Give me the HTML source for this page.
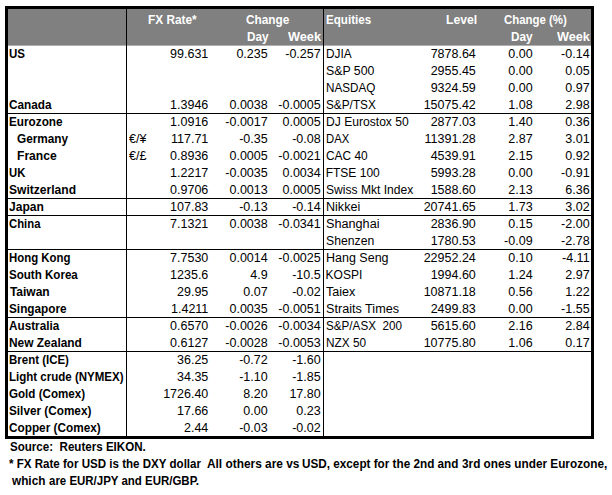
<!DOCTYPE html>
<html><head><meta charset="utf-8"><title>Markets</title>
<style>
html,body{margin:0;padding:0;background:#fff;}
body{width:612px;height:495px;position:relative;overflow:hidden;font-family:"Liberation Sans",sans-serif;color:#000;}
.box{position:absolute;left:5px;top:6px;width:583px;height:427px;border:3px solid #000;}
.hdr{position:absolute;left:8px;top:9px;width:583px;height:36px;background:#808080;border-bottom:1px solid #b0b0b0;}
.vl{position:absolute;top:9px;width:1px;height:427px;background:#000;}
.hl{position:absolute;left:8px;width:583px;height:1px;background:#000;}
.t{position:absolute;white-space:pre;line-height:17px;transform-origin:0 0;}
.b{font-weight:bold;font-size:12px;}
.n{font-size:12.5px;}
.e{font-size:12px;}
.h{font-weight:bold;font-size:12px;}
.f{font-weight:bold;font-size:12px;}
</style></head><body>
<div class="box"></div>
<div class="hdr"></div>
<div class="vl" style="left:126px"></div>
<div class="vl" style="left:323px"></div>
<div class="hl" style="top:113px"></div>
<div class="hl" style="top:198px"></div>
<div class="hl" style="top:215px"></div>
<div class="hl" style="top:249px"></div>
<div class="hl" style="top:317px"></div>
<div class="hl" style="top:351px"></div>
<div class="t b" style="left:8.81px;top:46px;transform:scaleX(0.9589);">US</div>
<div class="t n" style="right:403.70px;top:46px;">99.631</div>
<div class="t n" style="right:344.30px;top:46px;">0.235</div>
<div class="t n" style="right:291.30px;top:46px;">-0.257</div>
<div class="t e" style="left:325.73px;top:46px;transform:scaleX(0.9854);">DJIA</div>
<div class="t n" style="right:136.20px;top:46px;">7878.64</div>
<div class="t n" style="right:79.40px;top:46px;">0.00</div>
<div class="t n" style="right:22.40px;top:46px;">-0.14</div>
<div class="t e" style="left:325.58px;top:63px;transform:scaleX(1.0264);">S&amp;P 500</div>
<div class="t n" style="right:136.20px;top:63px;">2955.45</div>
<div class="t n" style="right:79.40px;top:63px;">0.00</div>
<div class="t n" style="right:22.40px;top:63px;">0.05</div>
<div class="t e" style="left:325.74px;top:80px;transform:scaleX(0.9742);">NASDAQ</div>
<div class="t n" style="right:136.20px;top:80px;">9324.59</div>
<div class="t n" style="right:79.40px;top:80px;">0.00</div>
<div class="t n" style="right:22.40px;top:80px;">0.97</div>
<div class="t b" style="left:8.77px;top:97px;transform:scaleX(0.9815);">Canada</div>
<div class="t n" style="right:403.70px;top:97px;">1.3946</div>
<div class="t n" style="right:344.30px;top:97px;">0.0038</div>
<div class="t n" style="right:291.30px;top:97px;">-0.0005</div>
<div class="t e" style="left:325.61px;top:97px;transform:scaleX(0.9836);">S&amp;P/TSX</div>
<div class="t n" style="right:136.20px;top:97px;">15075.42</div>
<div class="t n" style="right:79.40px;top:97px;">1.08</div>
<div class="t n" style="right:22.40px;top:97px;">2.98</div>
<div class="t b" style="left:8.55px;top:114px;transform:scaleX(0.9803);">Eurozone</div>
<div class="t n" style="right:403.70px;top:114px;">1.0916</div>
<div class="t n" style="right:344.30px;top:114px;">-0.0017</div>
<div class="t n" style="right:291.30px;top:114px;">0.0005</div>
<div class="t e" style="left:325.91px;top:114px;transform:scaleX(1.0086);">DJ Eurostox 50</div>
<div class="t n" style="right:136.20px;top:114px;">2877.03</div>
<div class="t n" style="right:79.40px;top:114px;">1.40</div>
<div class="t n" style="right:22.40px;top:114px;">0.36</div>
<div class="t b" style="left:17.47px;top:131px;transform:scaleX(0.9822);">Germany</div>
<div class="t e" style="left:128.60px;top:131px;transform:scaleX(1.0447);">€/¥</div>
<div class="t n" style="right:403.70px;top:131px;">117.71</div>
<div class="t n" style="right:344.30px;top:131px;">-0.35</div>
<div class="t n" style="right:291.30px;top:131px;">-0.08</div>
<div class="t e" style="left:325.77px;top:131px;transform:scaleX(0.9391);">DAX</div>
<div class="t n" style="right:136.20px;top:131px;">11391.28</div>
<div class="t n" style="right:79.40px;top:131px;">2.87</div>
<div class="t n" style="right:22.40px;top:131px;">3.01</div>
<div class="t b" style="left:17.22px;top:148px;transform:scaleX(1.0083);">France</div>
<div class="t e" style="left:128.60px;top:148px;transform:scaleX(1.0460);">€/£</div>
<div class="t n" style="right:403.70px;top:148px;">0.8936</div>
<div class="t n" style="right:344.30px;top:148px;">0.0005</div>
<div class="t n" style="right:291.30px;top:148px;">-0.0021</div>
<div class="t e" style="left:325.75px;top:148px;transform:scaleX(0.9919);">CAC 40</div>
<div class="t n" style="right:136.20px;top:148px;">4539.91</div>
<div class="t n" style="right:79.40px;top:148px;">2.15</div>
<div class="t n" style="right:22.40px;top:148px;">0.92</div>
<div class="t b" style="left:8.82px;top:165px;transform:scaleX(0.9420);">UK</div>
<div class="t n" style="right:403.70px;top:165px;">1.2217</div>
<div class="t n" style="right:344.30px;top:165px;">-0.0035</div>
<div class="t n" style="right:291.30px;top:165px;">0.0034</div>
<div class="t e" style="left:325.71px;top:165px;">FTSE 100</div>
<div class="t n" style="right:136.20px;top:165px;">5993.28</div>
<div class="t n" style="right:79.40px;top:165px;">0.00</div>
<div class="t n" style="right:22.40px;top:165px;">-0.91</div>
<div class="t b" style="left:9.38px;top:182px;transform:scaleX(1.0049);">Switzerland</div>
<div class="t n" style="right:403.70px;top:182px;">0.9706</div>
<div class="t n" style="right:344.30px;top:182px;">0.0013</div>
<div class="t n" style="right:291.30px;top:182px;">0.0005</div>
<div class="t e" style="left:325.79px;top:182px;transform:scaleX(1.0070);">Swiss Mkt Index</div>
<div class="t n" style="right:136.20px;top:182px;">1588.60</div>
<div class="t n" style="right:79.40px;top:182px;">2.13</div>
<div class="t n" style="right:22.40px;top:182px;">6.36</div>
<div class="t b" style="left:9.00px;top:199px;transform:scaleX(1.0058);">Japan</div>
<div class="t n" style="right:403.70px;top:199px;">107.83</div>
<div class="t n" style="right:344.30px;top:199px;">-0.13</div>
<div class="t n" style="right:291.30px;top:199px;">-0.14</div>
<div class="t e" style="left:325.67px;top:199px;transform:scaleX(1.0472);">Nikkei</div>
<div class="t n" style="right:136.20px;top:199px;">20741.65</div>
<div class="t n" style="right:79.40px;top:199px;">1.73</div>
<div class="t n" style="right:22.40px;top:199px;">3.02</div>
<div class="t b" style="left:8.79px;top:216px;transform:scaleX(0.9425);">China</div>
<div class="t n" style="right:403.70px;top:216px;">7.1321</div>
<div class="t n" style="right:344.30px;top:216px;">0.0038</div>
<div class="t n" style="right:291.30px;top:216px;">-0.0341</div>
<div class="t e" style="left:325.56px;top:216px;transform:scaleX(1.0545);">Shanghai</div>
<div class="t n" style="right:136.20px;top:216px;">2836.90</div>
<div class="t n" style="right:79.40px;top:216px;">0.15</div>
<div class="t n" style="right:22.40px;top:216px;">-2.00</div>
<div class="t e" style="left:325.59px;top:233px;transform:scaleX(1.0181);">Shenzen</div>
<div class="t n" style="right:136.20px;top:233px;">1780.53</div>
<div class="t n" style="right:79.40px;top:233px;">-0.09</div>
<div class="t n" style="right:22.40px;top:233px;">-2.78</div>
<div class="t b" style="left:8.77px;top:250px;transform:scaleX(0.9503);">Hong Kong</div>
<div class="t n" style="right:403.70px;top:250px;">7.7530</div>
<div class="t n" style="right:344.30px;top:250px;">0.0014</div>
<div class="t n" style="right:291.30px;top:250px;">-0.0025</div>
<div class="t e" style="left:325.68px;top:250px;transform:scaleX(1.0417);">Hang Seng</div>
<div class="t n" style="right:136.20px;top:250px;">22952.24</div>
<div class="t n" style="right:79.40px;top:250px;">0.10</div>
<div class="t n" style="right:22.40px;top:250px;">-4.11</div>
<div class="t b" style="left:9.41px;top:267px;transform:scaleX(0.9645);">South Korea</div>
<div class="t n" style="right:403.70px;top:267px;">1235.6</div>
<div class="t n" style="right:344.30px;top:267px;">4.9</div>
<div class="t n" style="right:291.30px;top:267px;">-10.5</div>
<div class="t e" style="left:325.61px;top:267px;">KOSPI</div>
<div class="t n" style="right:136.20px;top:267px;">1994.60</div>
<div class="t n" style="right:79.40px;top:267px;">1.24</div>
<div class="t n" style="right:22.40px;top:267px;">2.97</div>
<div class="t b" style="left:9.88px;top:284px;">Taiwan</div>
<div class="t n" style="right:403.70px;top:284px;">29.95</div>
<div class="t n" style="right:344.30px;top:284px;">0.07</div>
<div class="t n" style="right:291.30px;top:284px;">-0.02</div>
<div class="t e" style="left:326.16px;top:284px;transform:scaleX(1.0486);">Taiex</div>
<div class="t n" style="right:136.20px;top:284px;">10871.18</div>
<div class="t n" style="right:79.40px;top:284px;">0.56</div>
<div class="t n" style="right:22.40px;top:284px;">1.22</div>
<div class="t b" style="left:9.39px;top:301px;transform:scaleX(0.9826);">Singapore</div>
<div class="t n" style="right:403.70px;top:301px;">1.4211</div>
<div class="t n" style="right:344.30px;top:301px;">0.0035</div>
<div class="t n" style="right:291.30px;top:301px;">-0.0051</div>
<div class="t e" style="left:325.66px;top:301px;transform:scaleX(1.0525);">Straits Times</div>
<div class="t n" style="right:136.20px;top:301px;">2499.83</div>
<div class="t n" style="right:79.40px;top:301px;">0.00</div>
<div class="t n" style="right:22.40px;top:301px;">-1.55</div>
<div class="t b" style="left:8.81px;top:318px;transform:scaleX(0.9778);">Australia</div>
<div class="t n" style="right:403.70px;top:318px;">0.6570</div>
<div class="t n" style="right:344.30px;top:318px;">-0.0026</div>
<div class="t n" style="right:291.30px;top:318px;">-0.0034</div>
<div class="t e" style="left:325.72px;top:318px;transform:scaleX(0.9727);">S&amp;P/ASX  200</div>
<div class="t n" style="right:136.20px;top:318px;">5615.60</div>
<div class="t n" style="right:79.40px;top:318px;">2.16</div>
<div class="t n" style="right:22.40px;top:318px;">2.84</div>
<div class="t b" style="left:8.74px;top:335px;transform:scaleX(0.9939);">New Zealand</div>
<div class="t n" style="right:403.70px;top:335px;">0.6127</div>
<div class="t n" style="right:344.30px;top:335px;">-0.0028</div>
<div class="t n" style="right:291.30px;top:335px;">-0.0053</div>
<div class="t e" style="left:325.63px;top:335px;transform:scaleX(0.9846);">NZX 50</div>
<div class="t n" style="right:136.20px;top:335px;">10775.80</div>
<div class="t n" style="right:79.40px;top:335px;">1.06</div>
<div class="t n" style="right:22.40px;top:335px;">0.17</div>
<div class="t b" style="left:8.76px;top:352px;transform:scaleX(0.9563);">Brent (ICE)</div>
<div class="t n" style="right:403.70px;top:352px;">36.25</div>
<div class="t n" style="right:344.30px;top:352px;">-0.72</div>
<div class="t n" style="right:291.30px;top:352px;">-1.60</div>
<div class="t b" style="left:9.16px;top:369px;transform:scaleX(0.9599);">Light crude (NYMEX)</div>
<div class="t n" style="right:403.70px;top:369px;">34.35</div>
<div class="t n" style="right:344.30px;top:369px;">-1.10</div>
<div class="t n" style="right:291.30px;top:369px;">-1.85</div>
<div class="t b" style="left:8.78px;top:386px;transform:scaleX(0.9676);">Gold (Comex)</div>
<div class="t n" style="right:403.70px;top:386px;">1726.40</div>
<div class="t n" style="right:344.30px;top:386px;">8.20</div>
<div class="t n" style="right:291.30px;top:386px;">17.80</div>
<div class="t b" style="left:9.40px;top:403px;transform:scaleX(0.9802);">Silver (Comex)</div>
<div class="t n" style="right:403.70px;top:403px;">17.66</div>
<div class="t n" style="right:344.30px;top:403px;">0.00</div>
<div class="t n" style="right:291.30px;top:403px;">0.23</div>
<div class="t b" style="left:8.77px;top:420px;transform:scaleX(0.9820);">Copper (Comex)</div>
<div class="t n" style="right:403.70px;top:420px;">2.44</div>
<div class="t n" style="right:344.30px;top:420px;">-0.03</div>
<div class="t n" style="right:291.30px;top:420px;">-0.02</div>
<div class="t h" style="left:148.34px;top:12px;transform:scaleX(0.9856);color:#fff;">FX Rate*</div>
<div class="t h" style="left:245.67px;top:12px;transform:scaleX(0.9838);color:#fff;">Change</div>
<div class="t h" style="left:246.65px;top:29px;transform:scaleX(0.9819);color:#fff;">Day</div>
<div class="t h" style="left:287.87px;top:29px;transform:scaleX(1.0607);color:#fff;">Week</div>
<div class="t h" style="left:325.76px;top:12px;transform:scaleX(0.9675);color:#fff;">Equities</div>
<div class="t h" style="left:445.72px;top:12px;transform:scaleX(1.0134);color:#fff;">Level</div>
<div class="t h" style="left:503.89px;top:12px;transform:scaleX(0.9520);color:#fff;">Change (%)</div>
<div class="t h" style="left:511.25px;top:29px;transform:scaleX(0.9819);color:#fff;">Day</div>
<div class="t h" style="left:556.77px;top:29px;transform:scaleX(1.0575);color:#fff;">Week</div>
<div class="t f" style="left:9.81px;top:439px;transform:scaleX(0.9649);">Source:  Reuters EIKON.</div>
<div class="t f" style="left:8.78px;top:456px;transform:scaleX(0.9642);">* FX Rate for USD is the DXY dollar</div>
<div class="t f" style="left:206.51px;top:456px;transform:scaleX(0.9892);">All others are vs</div>
<div class="t f" style="left:302.00px;top:456px;transform:scaleX(0.9776);">USD, except for the 2nd and</div>
<div class="t f" style="left:461.88px;top:456px;transform:scaleX(0.9812);">3rd ones under Eurozone,</div>
<div class="t f" style="left:12.27px;top:473px;transform:scaleX(0.9817);">which</div>
<div class="t f" style="left:48.72px;top:473px;transform:scaleX(0.9558);">are EUR/JPY and EUR/GBP.</div>
</body></html>
